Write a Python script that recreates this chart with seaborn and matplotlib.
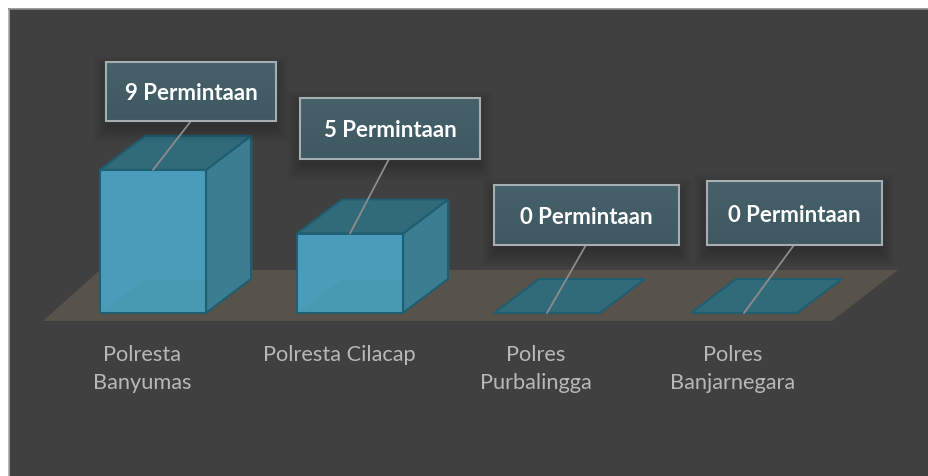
import numpy as np
import matplotlib
matplotlib.use('Agg')
import matplotlib.pyplot as plt
import seaborn as sns
from matplotlib.colors import LinearSegmentedColormap
from matplotlib.patches import Polygon, Rectangle

polres = ['Polresta\nBanyumas', 'Polresta Cilacap', 'Polres\nPurbalingga', 'Polres\nBanjarnegara']
permintaan = [9, 5, 0, 0]
teks = ['9 Permintaan', '5 Permintaan', '0 Permintaan', '0 Permintaan']

W, H = 929, 477
X0, STEP = 153, 197   # pixel of first bar centre, pixels between bars
Y0, UNIT = 314, 15.9  # pixel of value 0, pixels per unit
DX, DY = 45, 34       # depth of the boxes, pixels

sns.set_theme(style='dark', rc={'axes.grid': False})
plt.rcParams['font.family'] = ['Lato', 'DejaVu Sans']

fig = plt.figure(figsize=(W / 100, H / 100), dpi=100, facecolor='white')
L, T = 8.5, 9.5
ax = fig.add_axes([L / W, 0, (W - L) / W, (H - T) / H])
ax.set_facecolor('#404040')


# pixel position to data position
def px(x, y):
    return (x - X0) / STEP, (Y0 - y) / UNIT


edge = '#1f5d70'
sns.barplot(x=polres, y=permintaan, color='#4a9fbc', saturation=1, width=106 / STEP,
            edgecolor=edge, linewidth=1.5, alpha=0.93, ax=ax, zorder=4)
ax.set_xlabel('')
ax.set_ylabel('')
ax.set_yticks([])

for s in ax.spines.values():
    s.set_visible(False)
ax.spines['top'].set_visible(True)
ax.spines['left'].set_visible(True)
ax.spines['top'].set_color('#8a8a8a')
ax.spines['left'].set_color('#a8a8a8')
ax.spines['top'].set_linewidth(1.2)
ax.spines['left'].set_linewidth(1.2)

# floor
ax.add_patch(Polygon([px(43, 322), px(832, 322), px(898, 271), px(100, 271)],
                     facecolor='#57534b', edgecolor='none', zorder=1))

dx, dy = DX / STEP, DY / UNIT
for bar in ax.patches[:len(permintaan)]:
    x1, w, h = bar.get_x(), bar.get_width(), bar.get_height()
    x2 = x1 + w
    if h > 0:
        # back walls seen through the front
        ax.add_patch(Rectangle((x1 + dx, dy), w, h, facecolor='#3f8ba3', edgecolor='#2f7f98', lw=1, zorder=2))
        ax.add_patch(Polygon([(x1, 0), (x1 + dx, dy), (x1 + dx, h + dy), (x1, h)],
                             facecolor='#438fa7', edgecolor='none', zorder=2))
        ax.add_patch(Polygon([(x2, 0), (x2 + dx, dy), (x2 + dx, h + dy), (x2, h)],
                             facecolor='#3b7d91', edgecolor=edge, lw=1.5, zorder=3))
    ax.add_patch(Polygon([(x1, h), (x1 + dx, h + dy), (x2 + dx, h + dy), (x2, h)],
                         facecolor='#316b7a', edgecolor=edge, lw=1.5, zorder=3))

# tick labels sit a little left of the bars and high up inside the panel
ax.set_xticks(np.arange(len(polres)) - 11 / STEP)
ax.set_xticklabels(polres, color='#b8b8b8', fontsize=15.7, linespacing=1.47)
ax.tick_params(axis='x', length=0, pad=-(H - 345) * 0.72)

# callouts: box left, top, right, bottom and leader line start
boxes = [(106, 63, 276, 122, 191), (300, 99, 480, 160, 389),
         (494, 186, 679, 246, 586), (707, 182, 882, 246, 794)]
cmap = LinearSegmentedColormap.from_list('callout', ['#46616a', '#3e5962'])
for i, (b, t) in enumerate(zip(boxes, teks)):
    x1, y1, x2, y2, lx = b
    # soft shadow
    for g in range(16, 0, -2):
        x, y = px(x1 - g + 3, y2 + g + 5)
        ax.add_patch(Rectangle((x, y), (x2 - x1 + 2 * g - 6) / STEP, (y2 - y1 + 2 * g - 4) / UNIT,
                               facecolor='black', alpha=0.022, edgecolor='none', zorder=5))
    lo, hi = px(x1, y2), px(x2, y1)
    ax.imshow(np.linspace(0, 1, 40).reshape(-1, 1), extent=(lo[0], hi[0], lo[1], hi[1]),
              cmap=cmap, aspect='auto', zorder=7, origin='upper')
    ax.add_patch(Rectangle(lo, hi[0] - lo[0], hi[1] - lo[1], facecolor='none',
                           edgecolor='#a6aeb1', lw=1.5, zorder=8))
    a = px(lx, y2)
    ax.plot([a[0], i], [a[1], permintaan[i]], color='#8c8c8c', lw=1.3, zorder=6)
    c = px((x1 + x2) / 2, (y1 + y2) / 2 + 1.5)
    ax.text(c[0], c[1], t, color='white', fontsize=16, fontweight='bold', ha='center', va='center', zorder=9)

ax.set_xlim(px(L, 0)[0], px(W, 0)[0])
ax.set_ylim(px(0, H)[1], px(0, T)[1])

fig.savefig('out.png', dpi=100, facecolor='white')
